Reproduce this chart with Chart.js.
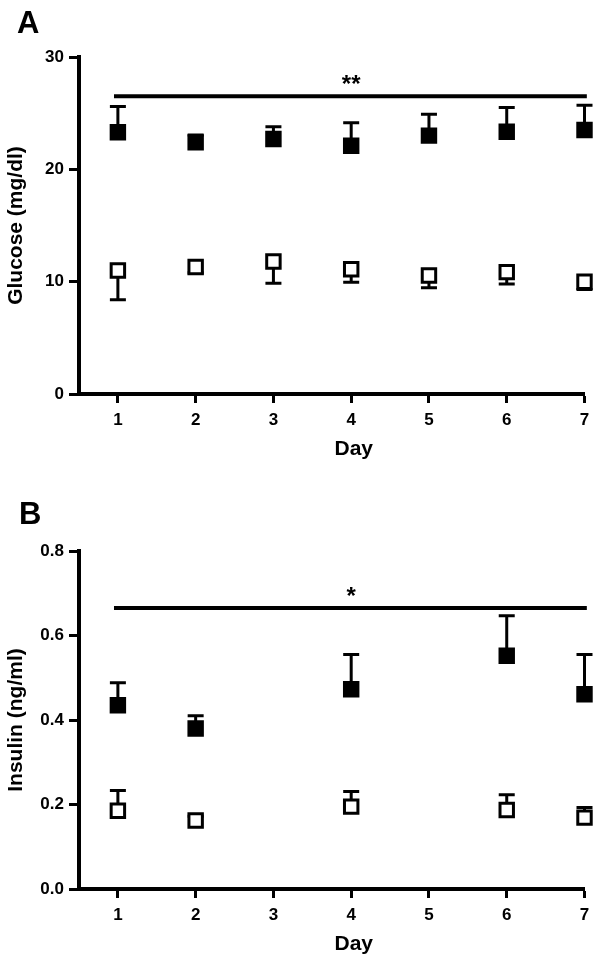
<!DOCTYPE html>
<html>
<head>
<meta charset="utf-8">
<script src="https://cdn.jsdelivr.net/npm/chart.js@4"></script>
<style>
    html, body { margin: 0; padding: 0; background: #fff; }
    .panel { position: absolute; left: 0; width: 597px; }
    #wrap-a { top: 0; height: 475px; }
    #wrap-b { top: 475px; height: 484px; }
</style>
</head>
<body>
<div class="panel" id="wrap-a"><canvas id="chart-a"></canvas></div>
<div class="panel" id="wrap-b"><canvas id="chart-b"></canvas></div>
<script>
// ── Data ─────────────────────────────────────────────────────────────────────

const dayTicks = [1, 2, 3, 4, 5, 6, 7];

// Panel A – glucose (mg/dl)
const glucoseDays      = [1, 2, 3, 4, 5, 6, 7];
const glucoseFilled    = [23.3, 22.4, 22.7, 22.1, 23.0, 23.35, 23.5];
const glucoseFilledErr = [2.3, 0.65, 1.1, 2.05, 1.9, 2.15, 2.2];
const glucoseOpen      = [11.0, 11.3, 11.8, 11.1, 10.55, 10.85, 10.0];
const glucoseOpenErr   = [2.6, 0.5, 1.95, 1.15, 1.1, 1.05, 0.7];
const glucoseTicks     = [0, 10, 20, 30];
const glucoseSig       = { from: 0.95, to: 7.03, y: 26.5, label: "**" };

// Panel B – insulin (ng/ml)
const insulinDays      = [1, 2, 4, 6, 7];
const insulinFilled    = [0.435, 0.38, 0.473, 0.552, 0.461];
const insulinFilledErr = [0.053, 0.03, 0.082, 0.095, 0.094];
const insulinOpen      = [0.185, 0.162, 0.195, 0.187, 0.169];
const insulinOpenErr   = [0.048, 0.01, 0.036, 0.036, 0.024];
const insulinTicks     = [0, 0.2, 0.4, 0.6, 0.8];
const insulinSig       = { from: 0.95, to: 7.03, y: 0.665, label: "*" };

const FONT = "'Liberation Sans', Arial, sans-serif";

// ── Plugins ──────────────────────────────────────────────────────────────────

// One-sided SEM bars, drawn under the squares so the markers cover the stem
const errorBars = {
    id: "errorBars",
    beforeDatasetsDraw(chart) {
        const { ctx, scales: { x, y } } = chart;
        ctx.save();
        ctx.strokeStyle = "#000";
        ctx.lineWidth = 3;
        chart.data.datasets.forEach(ds => {
            if (!ds.errors) return;
            ds.data.forEach((p, i) => {
                const px = x.getPixelForValue(p.x);
                const y0 = y.getPixelForValue(p.y);
                const y1 = y.getPixelForValue(p.y + ds.errDir * ds.errors[i]);
                ctx.beginPath();
                ctx.moveTo(px, y0);
                ctx.lineTo(px, y1);
                ctx.moveTo(px - 8, y1);
                ctx.lineTo(px + 8, y1);
                ctx.stroke();
            });
        });
        ctx.restore();
    },
};

// Panel letter, axis titles and the significance stars
const decorations = {
    id: "decorations",
    afterDraw(chart, args, opts) {
        const { ctx, chartArea: a, scales: { x, y } } = chart;
        ctx.save();
        ctx.fillStyle = "#000";

        ctx.font = `bold 31px ${FONT}`;
        ctx.textAlign = "left";
        ctx.textBaseline = "alphabetic";
        ctx.fillText(opts.letter, opts.letterX, opts.letterY);

        ctx.font = `bold 21px ${FONT}`;
        ctx.textAlign = "center";
        ctx.textBaseline = "middle";
        ctx.fillText("Day", (a.left + a.right) / 2 + 22, a.bottom + 55);

        ctx.save();
        ctx.translate(16, (a.top + a.bottom) / 2);
        ctx.rotate(-Math.PI / 2);
        ctx.fillText(opts.yTitle, 0, 0);
        ctx.restore();

        ctx.font = `bold 24px ${FONT}`;
        ctx.fillText(opts.sig.label, x.getPixelForValue(4), y.getPixelForValue(opts.sig.y) - 11);
        ctx.restore();
    },
};

// ── Chart builder ────────────────────────────────────────────────────────────

function points(days, values) {
    return days.map((d, i) => ({ x: d, y: values[i] }));
}

function marker(data, fill, errors, dir) {
    return {
        type: "scatter",
        data,
        errors,
        errDir: dir,
        clip: false,
        pointStyle: "rect",
        pointRadius: 9.5,
        pointHoverRadius: 9.5,
        pointBorderWidth: 3,
        pointBorderColor: "#000",
        pointBackgroundColor: fill,
    };
}

function makeChart(id, cfg) {
    const axisBorder = { display: true, width: 4, color: "#000" };
    const tickFont = { family: FONT, size: 17, weight: "bold" };

    return new Chart(document.getElementById(id), {
        type: "scatter",
        data: {
            datasets: [
                {
                    type: "line",
                    data: [{ x: cfg.sig.from, y: cfg.sig.y }, { x: cfg.sig.to, y: cfg.sig.y }],
                    borderColor: "#000",
                    borderWidth: 4,
                    pointRadius: 0,
                    clip: false,
                },
                marker(cfg.filled, "#000", cfg.filledErr, 1),
                marker(cfg.open, "#fff", cfg.openErr, cfg.openDir),
            ],
        },
        options: {
            responsive: true,
            maintainAspectRatio: false,
            animation: false,
            layout: { padding: { top: cfg.padTop, right: 10, left: 0, bottom: 0 } },
            plugins: {
                legend: { display: false },
                tooltip: { enabled: false },
                decorations: cfg.deco,
            },
            scales: {
                x: {
                    type: "linear",
                    min: 0.5,
                    max: 7,
                    border: axisBorder,
                    grid: { drawOnChartArea: false, tickLength: 9, tickWidth: 3, tickColor: "#000" },
                    ticks: { color: "#000", font: tickFont, padding: 7 },
                    afterBuildTicks: s => { s.ticks = dayTicks.map(v => ({ value: v })); },
                    afterFit: s => { s.height = cfg.xHeight; },
                },
                y: {
                    min: cfg.yTicks[0],
                    max: cfg.yTicks[cfg.yTicks.length - 1],
                    border: axisBorder,
                    grid: { drawOnChartArea: false, tickLength: 10, tickWidth: 3, tickColor: "#000" },
                    ticks: { color: "#000", font: tickFont, padding: 5, callback: cfg.fmt },
                    afterBuildTicks: s => { s.ticks = cfg.yTicks.map(v => ({ value: v })); },
                    afterFit: s => { s.width = 79; },
                },
            },
        },
        plugins: [errorBars, decorations],
    });
}

// ── Panels ───────────────────────────────────────────────────────────────────

makeChart("chart-a", {
    filled: points(glucoseDays, glucoseFilled),
    filledErr: glucoseFilledErr,
    open: points(glucoseDays, glucoseOpen),
    openErr: glucoseOpenErr,
    openDir: -1,
    yTicks: glucoseTicks,
    fmt: v => String(v),
    sig: glucoseSig,
    padTop: 57,
    xHeight: 81,
    deco: { letter: "A", letterX: 17, letterY: 33, yTitle: "Glucose (mg/dl)", sig: glucoseSig },
});

makeChart("chart-b", {
    filled: points(insulinDays, insulinFilled),
    filledErr: insulinFilledErr,
    open: points(insulinDays, insulinOpen),
    openErr: insulinOpenErr,
    openDir: 1,
    yTicks: insulinTicks,
    fmt: v => v.toFixed(1),
    sig: insulinSig,
    padTop: 76,
    xHeight: 70,
    deco: { letter: "B", letterX: 19, letterY: 49, yTitle: "Insulin (ng/ml)", sig: insulinSig },
});
</script>
</body>
</html>
